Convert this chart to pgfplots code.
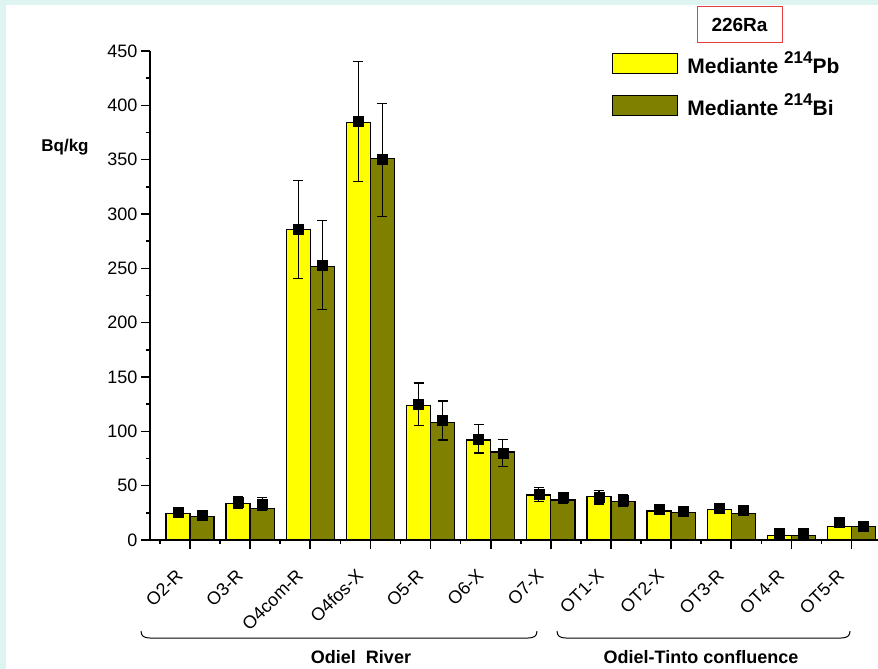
\documentclass[border=0pt]{standalone}
\usepackage{pgfplots}
\pgfplotsset{compat=1.18}
\usepackage{pgfplotstable}
\usepackage{fontspec}
\setmainfont{Liberation Sans}

\definecolor{pbyellow}{RGB}{255,255,0}
\definecolor{biolive}{RGB}{128,128,0}
\definecolor{framebg}{RGB}{221,244,241}
\definecolor{titlered}{RGB}{232,64,64}

% 226Ra activity (Bq/kg): bar value, mean marker and its uncertainty,
% derived from 214Pb and from 214Bi
\pgfplotstableread{
x  pb     pbm    pbe    bi     bim    bie
0  24.5   26.0   2.0    21.5   23.0   2.0
1  33.7   34.7   5.5    29.0   32.8   6.0
2  286.0  286.0  45.0   252.0  253.0  41.0
3  384.0  385.0  55.0   351.0  350.0  52.0
4  123.6  125.0  19.5   108.0  110.0  18.0
5  92.0   93.0   13.0   81.0   80.0   12.5
6  41.4   42.0   6.5    36.8   39.0   5.0
7  39.9   39.5   6.3    35.6   36.5   5.7
8  26.7   28.0   2.5    25.5   26.5   2.0
9  27.9   29.0   3.0    24.5   27.0   4.5
10 4.3    6.0    1.0    4.3    6.0    1.0
11 12.3   16.0   1.0    12.3   13.0   1.0
}\radiumdata

\begin{document}
\begin{tikzpicture}
\fill[framebg] (0pt,0pt) rectangle (878pt,-669pt);
\fill[white] (6pt,-5pt) rectangle (878pt,-669pt);
\useasboundingbox (0pt,0pt) rectangle (878pt,-669pt);

\begin{axis}[
  at={(150pt,-540pt)}, anchor=south west,
  scale only axis, width=728pt, height=489pt,
  xmin=-0.665, xmax=11.44, ymin=0, ymax=450,
  axis x line=bottom, axis y line=left,
  axis line style={-, line width=2pt},
  tick align=outside,
  major tick length=9pt, minor tick length=4pt,
  every tick/.style={black, line width=1.6pt},
  ytick={0,50,...,450}, minor y tick num=1,
  xtick={0,...,11},
  minor xtick={-0.5,0.5,...,10.5},
  xticklabels={O2-R,O3-R,O4com-R,O4fos-X,O5-R,O6-X,O7-X,OT1-X,OT2-X,OT3-R,OT4-R,OT5-R},
  tick label style={font=\fontsize{18}{20}\selectfont},
  /pgf/number format/assume math mode=true,
  xticklabel style={xshift=-8pt, yshift=-21pt, rotate=45, anchor=east},
  clip=false,
  legend style={at={(0.6346,1.003)}, anchor=north west, draw=none, fill=none,
    inner sep=0pt, row sep=15pt,
    font=\fontsize{21}{23}\selectfont\bfseries},
  legend cell align=left,
]
\addplot[ybar, bar width=0.4, bar shift=-0.2, fill=pbyellow, draw=black, line width=1.3pt,
  legend image code/.code={\draw[fill=pbyellow, draw=black, line width=1.2pt] (0pt,-10pt) rectangle (65pt,10pt);}]
  table[x=x, y=pb] {\radiumdata};
\addlegendentry{\hspace*{7pt}Mediante \raisebox{10pt}{\fontsize{17}{17}\selectfont 214}Pb}
\addplot[ybar, bar width=0.4, bar shift=0.2, fill=biolive, draw=black, line width=1.3pt,
  legend image code/.code={\draw[fill=biolive, draw=black, line width=1.2pt] (0pt,-10pt) rectangle (65pt,10pt);}]
  table[x=x, y=bi] {\radiumdata};
\addlegendentry{\hspace*{7pt}Mediante \raisebox{10pt}{\fontsize{17}{17}\selectfont 214}Bi}

\addplot[forget plot, only marks, mark=square*, mark size=5pt, black,
  error bars/.cd, y dir=both, y explicit,
  error bar style={line width=1.2pt, black},
  error mark options={rotate=90, mark size=5pt, line width=1.2pt, black}]
  table[x expr=\thisrow{x}-0.2, y=pbm, y error=pbe] {\radiumdata};
\addplot[forget plot, only marks, mark=square*, mark size=5pt, black,
  error bars/.cd, y dir=both, y explicit,
  error bar style={line width=1.2pt, black},
  error mark options={rotate=90, mark size=5pt, line width=1.2pt, black}]
  table[x expr=\thisrow{x}+0.2, y=bim, y error=bie] {\radiumdata};
\end{axis}

\begin{scope}[x=1pt, y=-1pt]
  \node[font=\fontsize{17}{19}\selectfont\bfseries] at (65,147) {Bq/kg};
  \node[draw=titlered, line width=1pt, minimum width=85pt, minimum height=36pt,
        inner sep=0pt, font=\fontsize{19}{21}\selectfont\bfseries] at (739.5,25) {226Ra};
  % group braces under the sample labels
  \draw[line width=1pt] (141,631) .. controls (141,636) and (144,638) .. (150,638)
    -- (528,638) .. controls (534,638) and (537,636) .. (537,631);
  \draw[line width=1pt] (557,631) .. controls (557,636) and (560,638) .. (566,638)
    -- (841,638) .. controls (847,638) and (850,636) .. (850,631);
  \node[font=\fontsize{18}{20}\selectfont\bfseries] at (361,657) {Odiel\ \ River};
  \node[font=\fontsize{18}{20}\selectfont\bfseries] at (701,657) {Odiel-Tinto confluence};
\end{scope}
\end{tikzpicture}
\end{document}
